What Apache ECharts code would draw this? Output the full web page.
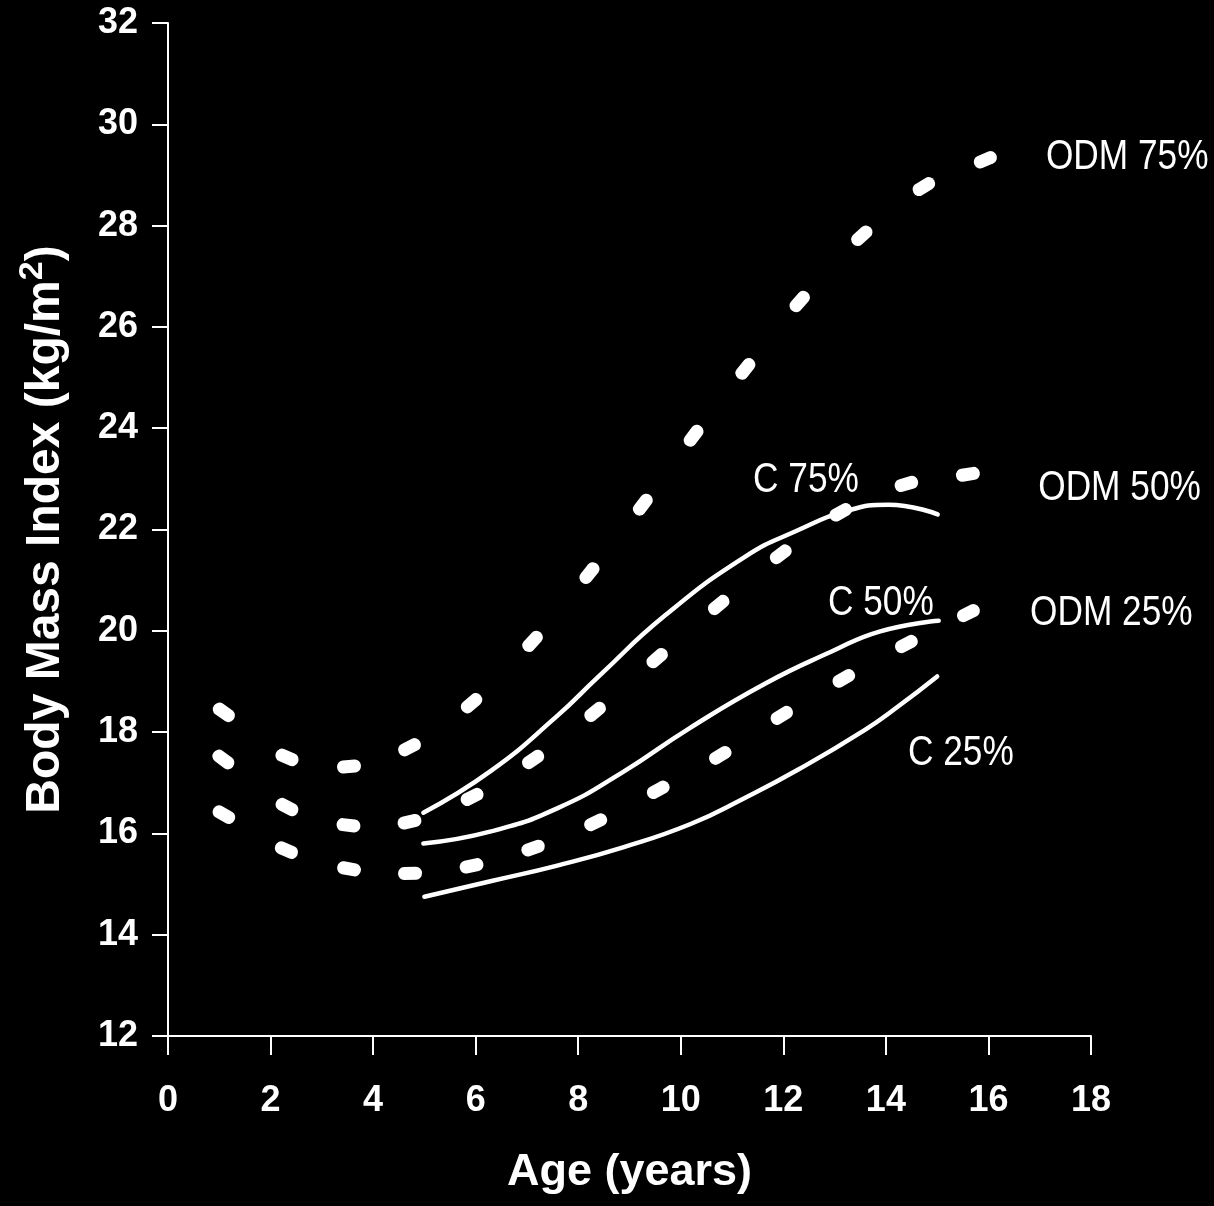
<!DOCTYPE html>
<html><head><meta charset="utf-8">
<script src="https://cdn.jsdelivr.net/npm/echarts@6/dist/echarts.min.js"></script>
<style>html,body{margin:0;padding:0;background:#000;} #c{width:1214px;height:1206px;}</style>
</head><body><div id="c"></div>
<script>
// ---- data (age in years, BMI in kg/m2) ----
const xTickValues = [0, 2, 4, 6, 8, 10, 12, 14, 16, 18];
const yTickValues = [12, 14, 16, 18, 20, 22, 24, 26, 28, 30, 32];

const odm75Age = [1.09, 2.32, 3.53, 4.71, 5.92, 7.11, 8.22, 9.26, 10.25, 11.26, 12.32, 13.53, 14.74, 15.94];
const odm75Bmi = [18.39, 17.50, 17.32, 17.70, 18.57, 19.79, 21.14, 22.49, 23.85, 25.17, 26.50, 27.80, 28.77, 29.30];
const odm50Age = [1.08, 2.32, 3.52, 4.71, 5.93, 7.12, 8.33, 9.54, 10.74, 11.95, 13.12, 14.40, 15.60];
const odm50Bmi = [17.46, 16.52, 16.16, 16.23, 16.72, 17.46, 18.40, 19.46, 20.51, 21.51, 22.34, 22.90, 23.09];
const odm25Age = [1.09, 2.31, 3.53, 4.72, 5.92, 7.12, 8.34, 9.56, 10.77, 11.97, 13.18, 14.40, 15.61];
const odm25Bmi = [16.37, 15.67, 15.30, 15.21, 15.36, 15.71, 16.22, 16.86, 17.54, 18.33, 19.06, 19.74, 20.35];

const c75Age = [4.98, 6.29, 7.58, 8.40, 9.69, 11.25, 12.25, 13.28, 14.05, 15.01];
const c75Bmi = [16.41, 17.23, 18.31, 19.10, 20.30, 21.46, 21.97, 22.38, 22.49, 22.30];
const c50Age = [4.98, 6.30, 7.60, 8.87, 10.16, 11.65, 12.92, 13.89, 15.03];
const c50Bmi = [15.80, 16.04, 16.50, 17.21, 18.07, 18.96, 19.58, 19.99, 20.20];
const c25Age = [5.00, 6.31, 7.61, 8.89, 10.18, 11.21, 12.31, 13.60, 14.23, 15.00];
const c25Bmi = [14.75, 15.06, 15.37, 15.73, 16.18, 16.68, 17.27, 18.05, 18.50, 19.10];

const seriesNames = ['ODM 75%', 'ODM 50%', 'ODM 25%', 'C 75%', 'C 50%', 'C 25%'];
// label anchors (left-middle of each text), in data coordinates
const labelAnchorAge = [17.12, 16.97, 16.81, 11.41, 12.87, 14.43];
const labelAnchorBmi = [29.35, 22.82, 20.35, 22.96, 20.55, 17.57];

// ---- styles ----
const AXFONT = "'Liberation Sans', Arial, sans-serif";
const capsule = 'path://M6,0H18A6,6 0 0 1 18,12H6A6,6 0 0 1 6,0Z';

function pairs(a, b) { return a.map((v, i) => [v, b[i]]); }

const chart = echarts.init(document.getElementById('c'), null, {renderer: 'canvas'});

const odmSets = [[odm75Age, odm75Bmi], [odm50Age, odm50Bmi], [odm25Age, odm25Bmi]];
const cSets = [[c75Age, c75Bmi], [c50Age, c50Bmi], [c25Age, c25Bmi]];

function buildOption(rot, labelPx) {
  const series = [];
  odmSets.forEach((s, k) => {
    series.push({
      name: seriesNames[k], type: 'scatter', symbol: capsule, symbolSize: [24, 13],
      itemStyle: {color: '#fff', opacity: 1}, z: 3,
      data: pairs(s[0], s[1]).map((p, i) => ({value: p, symbolRotate: rot ? rot[k][i] : 0}))
    });
  });
  cSets.forEach((s, k) => {
    series.push({
      name: seriesNames[3 + k], type: 'line', smooth: 0.5,
      showSymbol: false, symbol: 'none',
      lineStyle: {color: '#fff', width: 4.5, cap: 'round'}, z: 2,
      data: pairs(s[0], s[1])
    });
  });
  const graphic = labelPx ? seriesNames.map((n, i) => ({
    type: 'text', x: labelPx[i][0], y: labelPx[i][1], scaleX: 0.84, z: 10, silent: true,
    style: {text: n, fill: '#fff', font: "42px 'Liberation Sans', Arial, sans-serif",
      textAlign: 'left', textVerticalAlign: 'middle'}
  })) : [];
  return {
    backgroundColor: '#000',
    animation: false,
    graphic: graphic,
    grid: {left: 168, right: 123, top: 23, bottom: 170, containLabel: false, outerBoundsMode: 'none'},
    xAxis: {
      type: 'value', min: 0, max: 18, interval: 2,
      name: 'Age (years)', nameLocation: 'middle', nameGap: 114,
      nameTextStyle: {color: '#fff', fontSize: 45, fontWeight: 'bold', fontFamily: AXFONT},
      axisLine: {show: true, lineStyle: {color: '#fff', width: 2}},
      axisTick: {show: true, length: 19, lineStyle: {color: '#fff', width: 2}},
      axisLabel: {color: '#fff', fontSize: 36, fontWeight: 'bold', fontFamily: AXFONT, margin: 47,
        formatter: v => xTickValues.includes(v) ? String(v) : ''},
      splitLine: {show: false}
    },
    yAxis: {
      type: 'value', min: 12, max: 32, interval: 2,
      name: '{t|Body Mass Index (kg/m}{s|2}{t|)}', nameLocation: 'middle', nameGap: 92, nameRotate: 90,
      nameTextStyle: {color: '#fff', fontFamily: AXFONT,
        rich: {
          t: {color: '#fff', fontSize: 48, fontWeight: 'bold', fontFamily: AXFONT, lineHeight: 60},
          s: {color: '#fff', fontSize: 34, fontWeight: 'bold', fontFamily: AXFONT, lineHeight: 34, verticalAlign: 'top'}
        }},
      axisLine: {show: true, lineStyle: {color: '#fff', width: 2}},
      axisTick: {show: true, length: 16, lineStyle: {color: '#fff', width: 2}},
      axisLabel: {color: '#fff', fontSize: 36, fontWeight: 'bold', fontFamily: AXFONT, margin: 30,
        formatter: v => yTickValues.includes(v) ? String(v) : ''},
      splitLine: {show: false}
    },
    series: series
  };
}

chart.setOption(buildOption(null, null));
// orient each dash along the local direction of its curve (in pixel space)
const rot = odmSets.map(s => {
  const px = s[0].map((a, i) => chart.convertToPixel({gridIndex: 0}, [a, s[1][i]]));
  return px.map((p, i) => {
    const a = px[Math.max(0, i - 1)], b = px[Math.min(px.length - 1, i + 1)];
    return Math.atan2(a[1] - b[1], b[0] - a[0]) * 180 / Math.PI;
  });
});
const labelPx = labelAnchorAge.map((a, i) => chart.convertToPixel({gridIndex: 0}, [a, labelAnchorBmi[i]]));
chart.setOption(buildOption(rot, labelPx), true);
</script>
</body></html>
